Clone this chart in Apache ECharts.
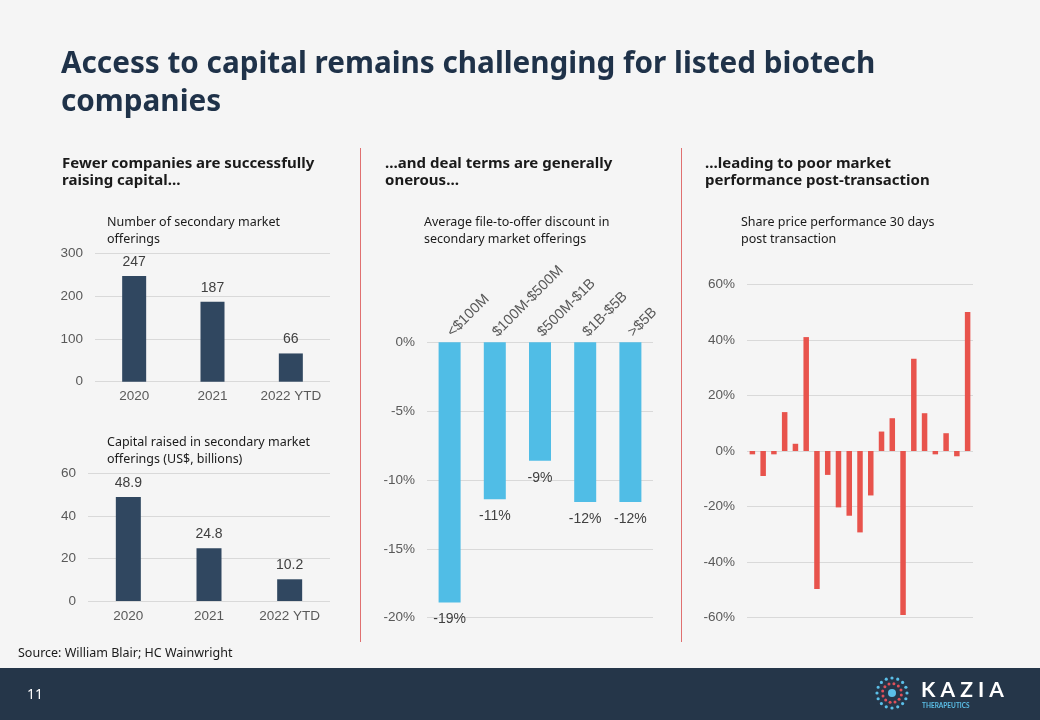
<!DOCTYPE html>
<html><head><meta charset="utf-8">
<script src="https://cdn.jsdelivr.net/npm/echarts@6/dist/echarts.min.js"></script>
<style>html,body{margin:0;padding:0;background:#f5f5f5;}#c{width:1040px;height:720px;}</style>
</head><body><div id="c"></div>
<script>
// ---- data ----
var offeringYears = ['2020', '2021', '2022 YTD'];
var offeringCounts = [247, 187, 66];
var capitalYears = ['2020', '2021', '2022 YTD'];
var capitalRaised = [48.9, 24.8, 10.2];
var discountBands = ['<$100M', '$100M-$500M', '$500M-$1B', '$1B-$5B', '>$5B'];
var discountValues = [-18.9, -11.4, -8.6, -11.6, -11.6];
var perfDeals = ['1','2','3','4','5','6','7','8','9','10','11','12','13','14','15','16','17','18','19','20','21'];
var perfValues = [-1.2, -9, -1.2, 14, 2.6, 41, -49.7, -8.6, -20.3, -23.3, -29.3, -16, 7, 11.8, -59, 33.2, 13.6, -1.2, 6.4, -1.9, 50];
var countTicks = {min: 0, max: 300, interval: 100};
var capitalTicks = {min: 0, max: 60, interval: 20};
var discountTicks = {min: -20, max: 0, interval: 5};
var perfTicks = {min: -60, max: 60, interval: 20};

var chart = echarts.init(document.getElementById('c'));
var axisFont = {color: '#595959', fontSize: 13.5, fontFamily: 'Liberation Sans'};
var gridLine = {lineStyle: {color: '#d9d9d9', width: 1}};
var navy = '#304760';

function catAxis(idx, data, extra) {
  var a = {type: 'category', gridIndex: idx, data: data,
    axisLine: {show: false}, axisTick: {show: false},
    axisLabel: Object.assign({margin: 8, interval: 0}, axisFont)};
  return Object.assign(a, extra || {});
}
function valAxis(idx, t, fmt) {
  return {type: 'value', gridIndex: idx, min: t.min, max: t.max, interval: t.interval,
    axisLine: {show: false}, axisTick: {show: false}, splitLine: gridLine,
    axisLabel: Object.assign({margin: 12, formatter: fmt}, axisFont)};
}

var subtitleStyle = {fontFamily: 'Noto Sans', fontWeight: 'bold', fontSize: 15, color: '#1a1a1a', lineHeight: 17};
var captionStyle = {fontFamily: 'Noto Sans', fontWeight: 'normal', fontSize: 12.5, color: '#1a1a1a', lineHeight: 17};

// logo dots
var logo = [];
var cx = 892, cy = 693;
for (var i = 0; i < 16; i++) {
  var a = i / 16 * Math.PI * 2;
  logo.push({type: 'circle', shape: {cx: cx + Math.cos(a) * 15, cy: cy + Math.sin(a) * 15, r: 1.6}, style: {fill: '#5bbfe8'}});
}
for (var j = 0; j < 12; j++) {
  var b = j / 12 * Math.PI * 2 + 0.2;
  logo.push({type: 'circle', shape: {cx: cx + Math.cos(b) * 9.5, cy: cy + Math.sin(b) * 9.5, r: 1.5}, style: {fill: '#e0505a'}});
}
logo.push({type: 'circle', shape: {cx: cx, cy: cy, r: 4}, style: {fill: '#5bbfe8'}});

function ttl(text, left, top, style) {
  return {text: text, left: left, top: top, padding: 0, textStyle: style};
}

chart.setOption({
  backgroundColor: '#f5f5f5',
  animation: false,
  title: [
    ttl('Access to capital remains challenging for listed biotech\ncompanies', 61, 46,
      {fontFamily: 'Noto Sans', fontWeight: 'bold', fontSize: 29.7, color: '#1f3249', lineHeight: 38}),
    ttl('Fewer companies are successfully\nraising capital…', 62, 155, subtitleStyle),
    ttl('…and deal terms are generally\nonerous…', 385, 155, subtitleStyle),
    ttl('…leading to poor market\nperformance post-transaction', 705, 155, subtitleStyle),
    ttl('Number of secondary market\nofferings', 107, 214, captionStyle),
    ttl('Capital raised in secondary market\nofferings (US$, billions)', 107, 434, captionStyle),
    ttl('Average file-to-offer discount in\nsecondary market offerings', 424, 214, captionStyle),
    ttl('Share price performance 30 days\npost transaction', 741, 214, captionStyle),
    ttl('Source: William Blair; HC Wainwright', 18, 647, {fontFamily: 'Noto Sans', fontSize: 12.5, color: '#1a1a1a', fontWeight: 'normal'})
  ],
  graphic: [
    {type: 'line', shape: {x1: 360.5, y1: 148, x2: 360.5, y2: 642}, style: {stroke: '#e07070', lineWidth: 1}},
    {type: 'line', shape: {x1: 681.5, y1: 148, x2: 681.5, y2: 642}, style: {stroke: '#e07070', lineWidth: 1}},
    {type: 'rect', shape: {x: 0, y: 668, width: 1040, height: 52}, style: {fill: '#253649'}},
    {type: 'text', left: 27, top: 688, style: {text: '11', fill: '#ffffff', fontSize: 14, fontFamily: 'Noto Sans'}},
    {type: 'text', left: 921, top: 680, style: {text: 'K A Z I A', fill: '#ffffff', fontSize: 21, fontWeight: 'bold', fontFamily: 'Lato'}},
    {type: 'text', left: 922, top: 702, style: {text: 'THERAPEUTICS', fill: '#5bbfe8', fontSize: 6.5, fontWeight: 'bold', fontFamily: 'Lato'}}
  ].concat(logo),
  grid: [
    {left: 95, top: 253.3, width: 235, height: 128.4},
    {left: 88, top: 473.3, width: 242, height: 127.7},
    {left: 427, top: 342.3, width: 226, height: 275.4},
    {left: 747, top: 284.3, width: 226, height: 333.4}
  ],
  xAxis: [
    catAxis(0, offeringYears),
    catAxis(1, capitalYears),
    catAxis(2, discountBands, {position: 'top', axisLabel: Object.assign({}, axisFont, {margin: 8, rotate: 45, interval: 0, fontSize: 14.5})}),
    catAxis(3, perfDeals, {axisLabel: {show: false}})
  ],
  yAxis: [
    valAxis(0, countTicks),
    valAxis(1, capitalTicks),
    valAxis(2, discountTicks, '{value}%'),
    valAxis(3, perfTicks, '{value}%')
  ],
  series: [
    {type: 'bar', xAxisIndex: 0, yAxisIndex: 0, data: offeringCounts, barWidth: 24,
      itemStyle: {color: navy},
      label: {show: true, position: 'top', distance: 7, color: '#404040', fontSize: 14, fontFamily: 'Liberation Sans'}},
    {type: 'bar', xAxisIndex: 1, yAxisIndex: 1, data: capitalRaised, barWidth: 25,
      itemStyle: {color: navy},
      label: {show: true, position: 'top', distance: 7, color: '#404040', fontSize: 14, fontFamily: 'Liberation Sans',
        formatter: function (p) { return p.value.toFixed(1); }}},
    {type: 'bar', xAxisIndex: 2, yAxisIndex: 2, data: discountValues, barWidth: 22,
      itemStyle: {color: '#50bde6'},
      label: {show: true, position: 'bottom', distance: 10, color: '#404040', fontSize: 14, fontFamily: 'Liberation Sans',
        formatter: function (p) { return Math.round(p.value) + '%'; }}},
    {type: 'bar', xAxisIndex: 3, yAxisIndex: 3, data: perfValues, barWidth: 5.5,
      itemStyle: {color: '#e8534c'}}
  ]
});
</script></body></html>
